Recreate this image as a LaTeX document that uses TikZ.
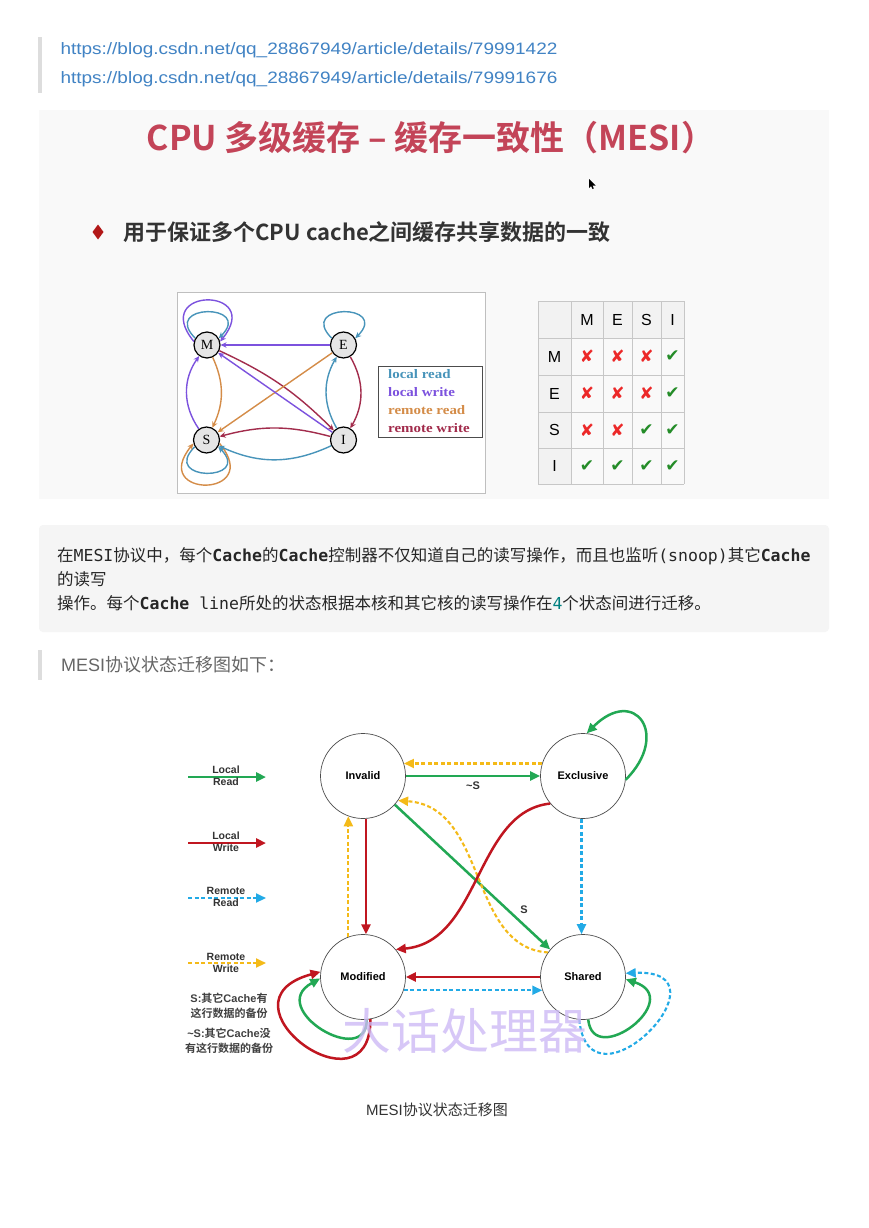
\documentclass[tikz,border=0pt]{standalone}
\usepackage{fontspec}
\setmainfont{Liberation Sans}
\newfontfamily\zhfont[BoldFont={Noto Sans CJK SC Bold}]{Noto Sans CJK SC}
\newfontfamily\codefont{DejaVu Sans Mono}
\newfontfamily\lsfont{Liberation Serif}
\newfontfamily\keyfont[FakeStretch=1.15]{Liberation Serif}
\newfontfamily\symfont{DejaVu Sans}
\newfontfamily\urlfont[FakeStretch=1.15]{Liberation Sans}
\usetikzlibrary{arrows.meta}

\definecolor{linkblue}{RGB}{65,131,196}
\definecolor{titlered}{RGB}{195,68,88}
\definecolor{bulletred}{RGB}{178,24,24}
\definecolor{slidebg}{RGB}{249,249,249}
\definecolor{codebg}{RGB}{245,245,245}
\definecolor{barg}{RGB}{221,221,221}
\definecolor{lread}{RGB}{72,148,186}
\definecolor{lwrite}{RGB}{124,82,222}
\definecolor{rread}{RGB}{212,140,72}
\definecolor{rwrite}{RGB}{162,44,76}
\definecolor{mgreen}{RGB}{34,168,84}
\definecolor{mred}{RGB}{192,22,32}
\definecolor{mblue}{RGB}{34,170,230}
\definecolor{myellow}{RGB}{244,186,24}
\definecolor{xred}{RGB}{236,40,40}
\definecolor{okgreen}{RGB}{36,140,40}
\definecolor{tealfour}{RGB}{0,128,128}
\definecolor{wmark}{RGB}{205,186,245}

\newcommand\nomark{\textcolor{xred}{\symfont ✘}}
\newcommand\okmark{\textcolor{okgreen}{\symfont ✔}}
\newcommand\cb[1]{{\codefont\bfseries #1}}
\newcommand\cm[1]{{\codefont #1}}

\begin{document}
\begin{tikzpicture}[x=1pt,y=-1pt,>=Stealth,
    sm/.style={line width=1.4pt,-{Stealth[length=6pt,width=5.5pt]}},
    mini/.style={circle,draw=black,line width=1.2pt,fill=black!10,minimum size=26pt,inner sep=0pt,font=\lsfont\fontsize{14}{14}\selectfont},
    state/.style={circle,draw=black!70,line width=0.7pt,minimum size=85pt,inner sep=0pt,font=\bfseries\fontsize{11}{13}\selectfont},
    sol/.style={line width=2.5pt,-{Triangle[length=10pt,width=9pt]}},
    dsh/.style={line width=2.1pt,dash pattern=on 4pt off 2.5pt,-{Triangle[length=10pt,width=9pt]}},
    legtext/.style={font=\bfseries\fontsize{10.5}{12}\selectfont,text=black!80,align=center},
    note/.style={font=\bfseries\fontsize{11}{15}\selectfont,text=black!75,align=center},
    thcell/.style={font=\fontsize{16}{16}\selectfont},
    tdcell/.style={font=\fontsize{17}{17}\selectfont}]

    \useasboundingbox (0,0) rectangle (868,1228);
    \fill[white] (0,0) rectangle (868,1228);

    % links
    \fill[barg] (38,37) rectangle (42,93);
    \node[anchor=west,text=linkblue,font=\urlfont\fontsize{16.5}{18}\selectfont] (url1) at (57,50) {https://blog.csdn.net/qq\_28867949/article/details/79991422};
    \node[anchor=west,text=linkblue,font=\urlfont\fontsize{16.5}{18}\selectfont] (url2) at (57,79) {https://blog.csdn.net/qq\_28867949/article/details/79991676};

    % slide
    \fill[slidebg] (39,110) rectangle (829,499);
    \node[text=titlered,font=\zhfont\bfseries\fontsize{34}{40}\selectfont] (title) at (431,138) {CPU 多级缓存 – 缓存一致性（MESI）};
    \fill[black] (589,179) -- (589,188) -- (591,186) -- (592.5,189) -- (593.8,188.4) -- (592.4,185.5) -- (595.5,185.5) -- cycle;
    \fill[bulletred] (98,224.5) -- (103.5,232) -- (98,239.5) -- (92.5,232) -- cycle;
    \node[anchor=west,text=black!80,font=\zhfont\bfseries\fontsize{22}{26}\selectfont] (sub) at (120,232) {用于保证多个CPU cache之间缓存共享数据的一致};

    % small state graph
    \draw[black!25,fill=white] (177,292) rectangle (485,493);
    \node[mini] (M) at (207,345) {M};
    \node[mini] (E) at (343.5,345) {E};
    \node[mini] (S) at (206.5,440) {S};
    \node[mini] (I) at (343.5,440) {I};

    \draw[sm,lwrite] (M.165) .. controls +(-45,-55) and +(45,-55) .. (M.15);
    \draw[sm,lread] (M.150) .. controls +(-35,-35) and +(35,-35) .. (M.30);
    \draw[sm,lread] (E.150) .. controls +(-35,-35) and +(35,-35) .. (E.30);
    \draw[sm,lread] (S.-150) .. controls +(-35,35) and +(35,35) .. (S.-30);
    \draw[sm,rread] (S.-15) .. controls +(45,55) and +(-45,55) .. (S.-165);

    \draw[sm,lwrite] (E) -- (M);
    \draw[sm,rwrite] (M) to[bend left=10] (I);
    \draw[sm,rread] (E) -- (S);
    \draw[sm,lwrite] (I) -- (M);
    \draw[sm,rwrite] (I) to[bend right=15] (S);
    \draw[sm,lread] (I) to[bend left=30] (E);
    \draw[sm,rwrite] (E) to[bend left=30] (I);
    \draw[sm,lwrite] (S) to[bend left=35] (M);
    \draw[sm,rread] (M) to[bend left=25] (S);
    \draw[sm,lread] (I) to[bend left=25] (S);

    \draw[black!70,line width=0.8pt,fill=white] (378,366) rectangle (482,437);
    \foreach \t/\c [count=\i] in {local read/lread,local write/lwrite,remote read/rread,remote write/rwrite}
        \node[anchor=west,text=\c,font=\keyfont\bfseries\fontsize{13}{13}\selectfont,inner sep=0pt] (key\i) at (388,356.6+17.8*\i) {\t};

    % compatibility table
    \fill[black!5] (538,301) rectangle (684,338);
    \fill[black!5] (538,338) rectangle (571,484);
    \foreach \xa in {538,571,603,632,661,684}
        \draw[black!22,line width=0.8pt] (\xa,301) -- (\xa,484);
    \foreach \ya in {301,338,375,412,448,484}
        \draw[black!22,line width=0.8pt] (538,\ya) -- (684,\ya);
    \foreach \h/\cx in {M/587,E/617.5,S/646.5,I/672.5}
        \node[thcell] (col\h) at (\cx,319.5) {\h};
    \foreach \h/\ry in {M/356.5,E/393.5,S/430,I/466}
        \node[thcell] (row\h) at (554.5,\ry) {\h};
    \foreach \ry/\a/\b/\cc/\d [count=\r] in {356.5/\nomark/\nomark/\nomark/\okmark,393.5/\nomark/\nomark/\nomark/\okmark,430/\nomark/\nomark/\okmark/\okmark,466/\okmark/\okmark/\okmark/\okmark}{
        \node[tdcell] (t\r a) at (587,\ry) {\a};
        \node[tdcell] (t\r b) at (617.5,\ry) {\b};
        \node[tdcell] (t\r c) at (646.5,\ry) {\cc};
        \node[tdcell] (t\r d) at (672.5,\ry) {\d};
    }

    % code block
    \fill[codebg,rounded corners=4pt] (39,525) rectangle (829,632);
    \node[anchor=base west,inner sep=0pt,text=black!85,font=\zhfont\fontsize{16.5}{20}\selectfont] (code1) at (57,561) {在\cm{MESI}协议中，每个\cb{Cache}的\cb{Cache}控制器不仅知道自己的读写操作，而且也监听\cm{(snoop)}其它\cb{Cache}};
    \node[anchor=base west,inner sep=0pt,text=black!85,font=\zhfont\fontsize{16.5}{20}\selectfont] (code2) at (57,585) {的读写};
    \node[anchor=base west,inner sep=0pt,text=black!85,font=\zhfont\fontsize{16.5}{20}\selectfont] (code3) at (57,609) {操作。每个\cb{Cache}\cm{\ line}所处的状态根据本核和其它核的读写操作在\cm{\textcolor{tealfour}{4}}个状态间进行迁移。};

    \fill[barg] (38,650) rectangle (42,680);
    \node[anchor=west,inner sep=0pt,text=black!60,font=\fontsize{18}{20}\selectfont] (intro) at (61,665) {MESI{\zhfont 协议状态迁移图如下：}};

    % MESI state transition diagram
    \node[state] (Inv) at (363,776) {Invalid};
    \node[state] (Exc) at (583,776) {Exclusive};
    \node[state] (Mod) at (363,977) {Modified};
    \node[state] (Shr) at (583,977) {Shared};

    \draw[dsh,myellow] (Exc.163) -- (Inv.17);
    \draw[sol,mgreen] (Inv) -- node[below=1pt,font=\bfseries\fontsize{11}{11}\selectfont,text=black!80] {\textasciitilde S} (Exc);
    \draw[sol,mgreen] (Exc.-5) .. controls +(45,-45) and +(48,-48) .. (Exc.85);
    \draw[sol,mred] (Inv.-86) -- (Mod.86);
    \draw[dsh,myellow] (Mod.110) -- (Inv.-110);
    \draw[sol,mgreen] (Inv.-42) -- node[pos=.78,anchor=south west,inner sep=3pt,font=\bfseries\fontsize{11}{11}\selectfont,text=black!80] {S} (Shr.140);
    \draw[dsh,myellow] (Shr.145) .. controls +(-80,-5) and +(90,6) .. (Inv.-35);
    \draw[sol,mred] (Exc.-140) .. controls +(-75,8) and +(85,-8) .. (Mod.40);
    \draw[dsh,mblue] (Exc.-92) -- (Shr.92);
    \draw[sol,mred] (Shr) -- (Mod);
    \draw[dsh,mblue] (Mod.-18) -- (Shr.-162);
    \draw[sol,mgreen] (Mod.-85) .. controls +(0,50) and +(-55,30) .. (Mod.182);
    \draw[sol,mred] (Mod.-80) .. controls +(0,100) and +(-110,30) .. (Mod.173);
    \draw[sol,mgreen] (Shr.-83) .. controls +(5,50) and +(60,20) .. (Shr.-3);
    \draw[dsh,mblue] (Shr.-95) .. controls +(10,100) and +(110,-5) .. (Shr.5);

    % legend
    \coordinate (lg1a) at (188,777); \coordinate (lg1b) at (266,777);
    \coordinate (lg2a) at (188,843); \coordinate (lg2b) at (266,843);
    \coordinate (lg3a) at (188,898); \coordinate (lg3b) at (266,898);
    \coordinate (lg4a) at (188,963); \coordinate (lg4b) at (266,963);
    \draw[sol,mgreen] (lg1a) -- (lg1b);
    \draw[sol,mred] (lg2a) -- (lg2b);
    \draw[dsh,mblue] (lg3a) -- (lg3b);
    \draw[dsh,myellow] (lg4a) -- (lg4b);
    \node[legtext] (lt1) at (226,776) {Local\\Read};
    \node[legtext] (lt2) at (226,842) {Local\\Write};
    \node[legtext] (lt3) at (226,897) {Remote\\Read};
    \node[legtext] (lt4) at (226,963) {Remote\\Write};
    \node[note] (nt1) at (229,1006) {S:{\zhfont 其它}Cache{\zhfont 有}\\{\zhfont 这行数据的备份}};
    \node[note] (nt2) at (229,1041) {\textasciitilde S:{\zhfont 其它}Cache{\zhfont 没}\\{\zhfont 有这行数据的备份}};

    \node[text=wmark,opacity=.8,font=\zhfont\fontsize{49}{49}\selectfont] (wm) at (465,1031) {大话处理器};

    \node[text=black!80,font=\fontsize{15}{18}\selectfont] (cap) at (437,1110) {MESI{\zhfont 协议状态迁移图}};
\end{tikzpicture}
\end{document}
